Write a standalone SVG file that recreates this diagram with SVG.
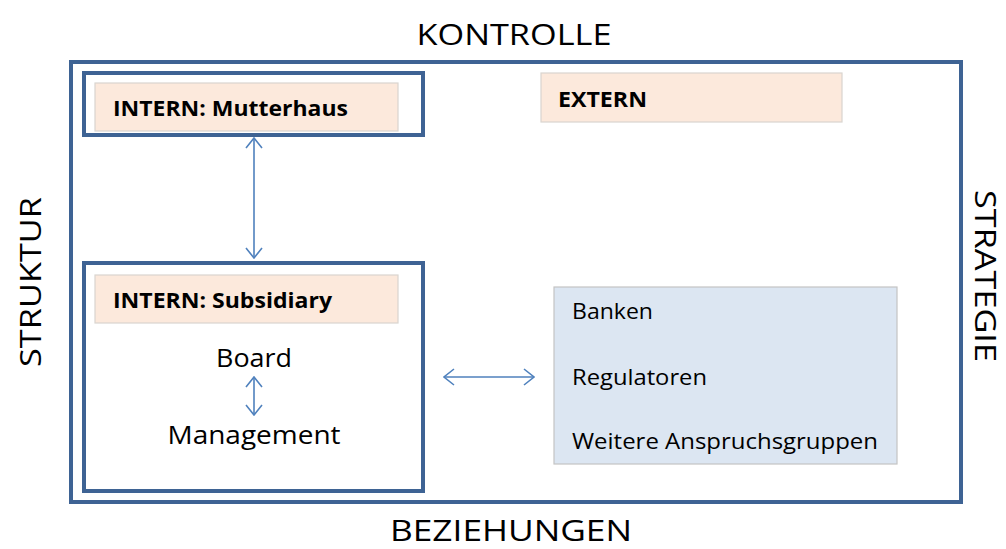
<svg xmlns="http://www.w3.org/2000/svg" width="1006" height="549" viewBox="0 0 1006 549">
  <style>
    .frame { fill: none; stroke: #3e6394; stroke-width: 4; }
    .label { fill: #fce9dc; stroke: #d9d4cf; stroke-width: 1.2; }
    .ext { fill: #dce6f2; stroke: #c4c4c4; stroke-width: 1.2; }
    .head { font-family: "Open Sans", "Noto Sans", sans-serif; font-weight: bold; font-size: 22px; fill: #000; }
    .txt { font-family: "Open Sans", "Noto Sans", sans-serif; font-size: 22px; fill: #000; }
    .big { font-family: "Open Sans", "Noto Sans", sans-serif; font-size: 30px; fill: #000; }
    .mid { font-family: "Open Sans", "Noto Sans", sans-serif; font-size: 25px; fill: #000; }
    .link { fill: none; stroke: #4f81bd; stroke-width: 1.6; }
  </style>
  <defs>
    <marker id="chev" viewBox="0 0 12 18" refX="11" refY="9" markerWidth="12" markerHeight="18" markerUnits="userSpaceOnUse" orient="auto-start-reverse">
      <polyline points="1,1 11,9 1,17" fill="none" stroke="#4f81bd" stroke-width="1.6"/>
    </marker>
  </defs>
  <rect width="1006" height="549" fill="#fff"/>

  <!-- axis labels -->
  <text class="big" x="514" y="45" text-anchor="middle" textLength="195" lengthAdjust="spacingAndGlyphs">KONTROLLE</text>
  <text class="big" style="font-size:29px" x="511" y="541" text-anchor="middle" textLength="242" lengthAdjust="spacingAndGlyphs">BEZIEHUNGEN</text>
  <text class="big" transform="translate(41,282) rotate(-90)" text-anchor="middle" textLength="170" lengthAdjust="spacingAndGlyphs">STRUKTUR</text>
  <text class="big" style="font-size:29px" transform="translate(975,276) rotate(90)" text-anchor="middle" textLength="172" lengthAdjust="spacingAndGlyphs">STRATEGIE</text>

  <!-- outer frame -->
  <rect id="frame" class="frame" x="71" y="62" width="890" height="440"/>

  <g id="mutterhaus">
    <rect class="frame" x="84" y="73" width="339" height="62"/>
    <rect class="label" x="95" y="83" width="303" height="48"/>
    <text class="head" x="113" y="116" textLength="235" lengthAdjust="spacingAndGlyphs">INTERN: Mutterhaus</text>
  </g>

  <g id="extern">
    <rect class="label" x="541" y="73" width="301" height="49"/>
    <text class="head" x="558" y="107" textLength="89" lengthAdjust="spacingAndGlyphs">EXTERN</text>
  </g>

  <g id="subsidiary">
    <rect class="frame" x="84" y="263" width="339" height="228"/>
    <rect class="label" x="95" y="275" width="303" height="48"/>
    <text class="head" x="113" y="308" textLength="219" lengthAdjust="spacingAndGlyphs">INTERN: Subsidiary</text>
    <text class="mid" x="254" y="367" text-anchor="middle" textLength="76" lengthAdjust="spacingAndGlyphs">Board</text>
    <text class="mid" x="254" y="444" text-anchor="middle" textLength="173" lengthAdjust="spacingAndGlyphs">Management</text>
  </g>

  <g id="stakeholders">
    <rect class="ext" x="554" y="287" width="343" height="177"/>
    <text class="txt" x="572" y="319" textLength="81" lengthAdjust="spacingAndGlyphs">Banken</text>
    <text class="txt" x="572" y="385" textLength="135" lengthAdjust="spacingAndGlyphs">Regulatoren</text>
    <text class="txt" x="572" y="449" textLength="306" lengthAdjust="spacingAndGlyphs">Weitere Anspruchsgruppen</text>
  </g>

  <g id="connectors">
    <line class="link" x1="254" y1="138" x2="254" y2="258" marker-start="url(#chev)" marker-end="url(#chev)"/>
    <line class="link" x1="254" y1="377" x2="254" y2="415" marker-start="url(#chev)" marker-end="url(#chev)"/>
    <line class="link" x1="444" y1="377" x2="534" y2="377" marker-start="url(#chev)" marker-end="url(#chev)"/>
  </g>
</svg>
